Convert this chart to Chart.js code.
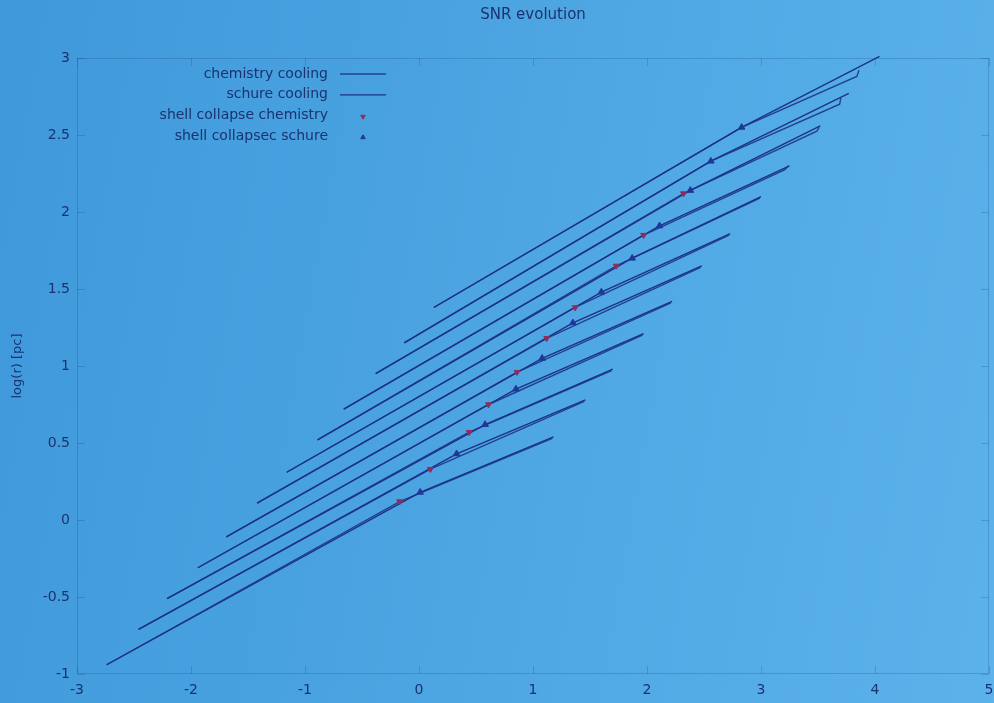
<!DOCTYPE html>
<html>
<head>
<meta charset="utf-8">
<title>SNR evolution</title>
<script src="https://cdn.jsdelivr.net/npm/chart.js@4.4.1/dist/chart.umd.min.js"></script>
<style>
  html, body { margin: 0; padding: 0; }
  body {
    width: 994px; height: 703px; overflow: hidden;
    background: linear-gradient(100deg, #3f98da 0%, #4aa3e0 40%, #54ace7 75%, #5cb2ea 100%);
  }
</style>
</head>
<body>
<canvas id="snr-chart" width="994" height="703"></canvas>
<script>
'use strict';

// twelve runs, log(t) on x, log(r) [pc] on y
var startX = [-2.74, -2.46, -2.21, -1.94, -1.69, -1.42, -1.16, -0.89, -0.66, -0.38, -0.13, 0.13];
var startY = [-0.94, -0.71, -0.51, -0.31, -0.11, 0.11, 0.31, 0.52, 0.72, 0.95, 1.15, 1.38];

// shell collapse, chemistry cooling (not visible for the last two runs)
var chemCollapseX = [-0.17, 0.10, 0.44, 0.61, 0.86, 1.12, 1.37, 1.73, 1.97, 2.32, null, null];
var chemCollapseY = [0.12, 0.33, 0.57, 0.75, 0.96, 1.18, 1.38, 1.65, 1.85, 2.12, null, null];

// shell collapse, schure cooling
var schureCollapseX = [0.01, 0.33, 0.58, 0.85, 1.08, 1.35, 1.60, 1.87, 2.11, 2.38, 2.56, 2.83];
var schureCollapseY = [0.18, 0.43, 0.62, 0.85, 1.05, 1.28, 1.48, 1.70, 1.91, 2.14, 2.33, 2.55];

var schureEndX = [1.18, 1.46, 1.70, 1.97, 2.22, 2.48, 2.73, 3.00, 3.25, 3.52, 3.77, 4.04];
var schureEndY = [0.54, 0.78, 0.98, 1.21, 1.42, 1.65, 1.86, 2.10, 2.30, 2.56, 2.77, 3.01];

var chemEndX = [1.17, 1.45, 1.69, 1.96, 2.21, 2.47, 2.72, 2.99, 3.21, 3.49, 3.69, 3.84];
var chemEndY = [0.53, 0.77, 0.97, 1.20, 1.41, 1.64, 1.85, 2.09, 2.275, 2.525, 2.70, 2.88];
var chemHookX = [null, null, null, null, null, null, null, null, 3.24, 3.51, 3.70, 3.86];
var chemHookY = [null, null, null, null, null, null, null, null, 2.30, 2.55, 2.74, 2.92];

var textColor = '#1a3370';
var faint = 'rgba(25, 55, 115, 0.22)';

var chemLine = [];
var schureLine = [];
var chemPoints = [];
var schurePoints = [];

for (var i = 0; i < startX.length; i++) {
  var bendX = chemCollapseX[i] !== null ? chemCollapseX[i] : schureCollapseX[i];
  var bendY = chemCollapseY[i] !== null ? chemCollapseY[i] : schureCollapseY[i];

  chemLine.push({ x: startX[i], y: startY[i] });
  chemLine.push({ x: bendX, y: bendY });
  chemLine.push({ x: chemEndX[i], y: chemEndY[i] });
  if (chemHookX[i] !== null) {
    chemLine.push({ x: chemHookX[i], y: chemHookY[i] });
  }
  chemLine.push({ x: chemEndX[i], y: null });

  schureLine.push({ x: startX[i], y: startY[i] });
  schureLine.push({ x: schureCollapseX[i], y: schureCollapseY[i] });
  schureLine.push({ x: schureEndX[i], y: schureEndY[i] });
  schureLine.push({ x: schureEndX[i], y: null });

  if (chemCollapseX[i] !== null) {
    chemPoints.push({ x: chemCollapseX[i], y: chemCollapseY[i] });
  }
  schurePoints.push({ x: schureCollapseX[i], y: schureCollapseY[i] });
}

// gnuplot style key inside the plot: text right aligned, sample on the right
var keyPlugin = {
  id: 'insideKey',
  afterDatasetsDraw: function (chart) {
    var ctx = chart.ctx;
    var textRight = 328;
    var sampleLeft = 340;
    var sampleRight = 386;
    var rowTop = 74;
    var rowGap = 20.8;

    ctx.save();
    ctx.font = '14px "DejaVu Sans"';
    ctx.textAlign = 'right';
    ctx.textBaseline = 'middle';

    chart.data.datasets.forEach(function (ds, n) {
      var y = rowTop + n * rowGap;
      ctx.fillStyle = textColor;
      ctx.fillText(ds.label, textRight, y);

      if (ds.showLine) {
        ctx.strokeStyle = ds.borderColor;
        ctx.lineWidth = 1.3;
        ctx.beginPath();
        ctx.moveTo(sampleLeft, y);
        ctx.lineTo(sampleRight, y);
        ctx.stroke();
      } else {
        ctx.fillStyle = ds.backgroundColor;
        ctx.strokeStyle = ds.borderColor;
        ctx.lineWidth = 1;
        Chart.helpers.drawPoint(ctx, {
          pointStyle: 'triangle',
          rotation: ds.pointRotation,
          radius: 2.6,
          borderWidth: 1
        }, (sampleLeft + sampleRight) / 2, y + 1);
      }
    });
    ctx.restore();
  }
};

// faint box round the plot with inward, mirrored ticks
var framePlugin = {
  id: 'frame',
  beforeDatasetsDraw: function (chart) {
    var a = chart.chartArea;
    var ctx = chart.ctx;
    var len = 8;
    var xs = chart.scales.x;
    var ys = chart.scales.y;

    ctx.save();
    ctx.strokeStyle = faint;
    ctx.lineWidth = 1;
    ctx.strokeRect(a.left + 0.5, a.top + 0.5, a.right - a.left - 1, a.bottom - a.top - 1);

    ctx.beginPath();
    xs.ticks.forEach(function (t) {
      var px = Math.round(xs.getPixelForValue(t.value)) + 0.5;
      ctx.moveTo(px, a.bottom);
      ctx.lineTo(px, a.bottom - len);
      ctx.moveTo(px, a.top);
      ctx.lineTo(px, a.top + len);
    });
    ys.ticks.forEach(function (t) {
      var py = Math.round(ys.getPixelForValue(t.value)) + 0.5;
      ctx.moveTo(a.left, py);
      ctx.lineTo(a.left + len, py);
      ctx.moveTo(a.right, py);
      ctx.lineTo(a.right - len, py);
    });
    ctx.stroke();
    ctx.restore();
  }
};

var plainNumber = function (value) {
  return String(Math.round(value * 10) / 10);
};

var ctx = document.getElementById('snr-chart').getContext('2d');

new Chart(ctx, {
  type: 'scatter',
  data: {
    datasets: [{
      label: 'chemistry cooling',
      data: chemLine,
      showLine: true,
      spanGaps: false,
      borderColor: '#23408e',
      borderWidth: 1.4,
      pointRadius: 0,
      clip: 10,
      order: 3
    }, {
      label: 'schure cooling',
      data: schureLine,
      showLine: true,
      spanGaps: false,
      borderColor: '#1d3284',
      borderWidth: 1.4,
      pointRadius: 0,
      clip: 10,
      order: 2
    }, {
      label: 'shell collapse chemistry',
      data: chemPoints,
      pointStyle: 'triangle',
      pointRotation: 180,
      pointRadius: 3.4,
      backgroundColor: '#8e2d5c',
      borderColor: '#8e2d5c',
      borderWidth: 1,
      order: 1
    }, {
      label: 'shell collapsec schure',
      data: schurePoints,
      pointStyle: 'triangle',
      pointRotation: 0,
      pointRadius: 3.8,
      backgroundColor: '#1f3796',
      borderColor: '#1f3796',
      borderWidth: 1,
      order: 0
    }]
  },
  options: {
    responsive: false,
    animation: false,
    devicePixelRatio: 1,
    layout: { padding: { left: 0, right: 0, top: 0, bottom: 0 } },
    plugins: {
      legend: { display: false },
      tooltip: { enabled: false },
      title: {
        display: true,
        text: 'SNR evolution',
        fullSize: false,
        align: 'center',
        color: textColor,
        font: { family: '"DejaVu Sans"', size: 15, weight: 'normal' },
        padding: { top: 6, bottom: 34 }
      }
    },
    scales: {
      x: {
        type: 'linear',
        min: -3,
        max: 5,
        ticks: {
          stepSize: 1,
          color: textColor,
          font: { family: '"DejaVu Sans"', size: 14 },
          padding: 8,
          callback: plainNumber
        },
        grid: { drawOnChartArea: false, drawTicks: false },
        border: { display: false },
        afterFit: function (scale) {
          scale.height = 29;
          scale.paddingRight = 5;
        }
      },
      y: {
        type: 'linear',
        min: -1,
        max: 3,
        ticks: {
          stepSize: 0.5,
          color: textColor,
          font: { family: '"DejaVu Sans"', size: 14 },
          padding: 7,
          callback: plainNumber
        },
        title: {
          display: true,
          text: 'log(r) [pc]',
          color: textColor,
          font: { family: '"DejaVu Sans"', size: 13 },
          padding: { top: 10, bottom: 4 }
        },
        grid: { drawOnChartArea: false, drawTicks: false },
        border: { display: false },
        afterFit: function (scale) { scale.width = 77; }
      }
    }
  },
  plugins: [framePlugin, keyPlugin]
});
</script>
</body>
</html>
